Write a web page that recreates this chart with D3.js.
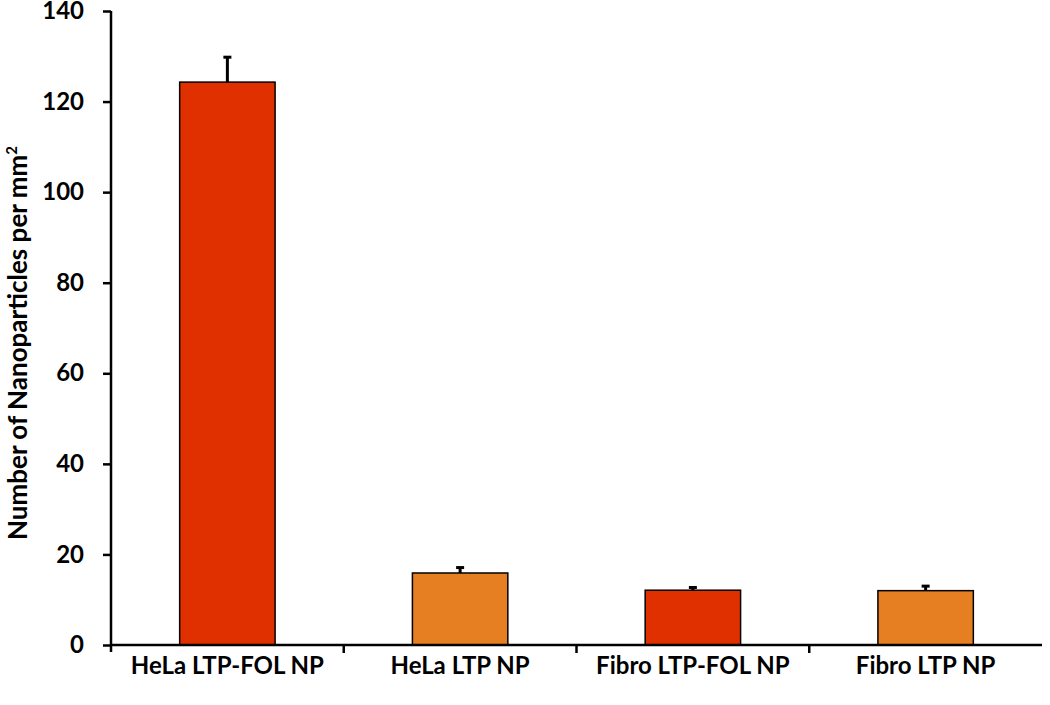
<!DOCTYPE html>
<html>
<head>
<meta charset="utf-8">
<script src="https://cdn.jsdelivr.net/npm/d3@7"></script>
<style>
  body { margin: 0; background: #fff; }
  text { font-family: Lato, "Open Sans", sans-serif; font-weight: bold; fill: #000; }
</style>
</head>
<body>
<svg id="chart"></svg>
<script>
const width = 1050;
const height = 705;

// data
const categories = ["HeLa LTP-FOL NP", "HeLa LTP NP", "Fibro LTP-FOL NP", "Fibro LTP NP"];
const values = [124.3, 15.9, 12.1, 12.0];
const errors = [5.5, 1.2, 0.6, 1.0];
const barColors = ["#E03000", "#E67E22", "#E03000", "#E67E22"];
const yTicks = [0, 20, 40, 60, 80, 100, 120, 140];

const margin = { top: 11, right: 8, bottom: 60, left: 111 };

const svg = d3.select("#chart").attr("width", width).attr("height", height);

const x = d3.scaleBand().domain(categories).range([margin.left, 1042]).paddingInner(0.59).paddingOuter(0.295);
const y = d3.scaleLinear().domain([0, 140]).range([645, margin.top]);

// bars
svg.append("g")
  .selectAll("rect")
  .data(categories)
  .enter()
  .append("rect")
  .attr("x", (d) => x(d))
  .attr("y", (d, i) => y(values[i]))
  .attr("width", x.bandwidth())
  .attr("height", (d, i) => y(0) - y(values[i]))
  .attr("fill", (d, i) => barColors[i])
  .attr("stroke", "#000")
  .attr("stroke-width", 1.5);

// error bars (upper only)
const eb = svg.append("g").attr("stroke", "#000").attr("stroke-width", 3);
categories.forEach((c, i) => {
  const cx = x(c) + x.bandwidth() / 2;
  eb.append("line").attr("x1", cx).attr("x2", cx).attr("y1", y(values[i])).attr("y2", y(values[i] + errors[i]));
  eb.append("line").attr("x1", cx - 4).attr("x2", cx + 4).attr("y1", y(values[i] + errors[i])).attr("y2", y(values[i] + errors[i]));
});

// y axis
const yAxis = svg.append("g")
  .attr("transform", `translate(${margin.left},0)`)
  .call(d3.axisLeft(y).tickValues(yTicks).tickSize(8).tickPadding(19));
yAxis.select(".domain").attr("stroke-width", 2.5).attr("d", `M0,${margin.top}V652`);
yAxis.selectAll(".tick line").attr("stroke-width", 2.5);
yAxis.selectAll(".tick text").style("font-size", "24px");

// x axis with ticks between the categories
const step = x.step();
const xAxis = svg.append("g").attr("transform", `translate(0,${y(0)})`);
xAxis.append("line").attr("x1", margin.left).attr("x2", 1042).attr("stroke", "#000").attr("stroke-width", 2.5);
xAxis.selectAll(".sep")
  .data(categories.slice(1))
  .enter()
  .append("line")
  .attr("x1", (d) => x(d) - step * x.paddingInner() / 2)
  .attr("x2", (d) => x(d) - step * x.paddingInner() / 2)
  .attr("y1", 0)
  .attr("y2", 8)
  .attr("stroke", "#000")
  .attr("stroke-width", 2.5);
xAxis.selectAll(".lab")
  .data(categories)
  .enter()
  .append("text")
  .attr("x", (d) => x(d) + x.bandwidth() / 2)
  .attr("y", 29)
  .attr("text-anchor", "middle")
  .style("font-size", "24px")
  .text((d) => d);

// y title
const title = svg.append("text")
  .attr("transform", `translate(27,${(y(0) + y(140)) / 2 + 15}) rotate(-90)`)
  .attr("text-anchor", "middle")
  .style("font-size", "26px");
title.append("tspan").text("Number of Nanoparticles per mm");
title.append("tspan").attr("dy", -10).style("font-size", "15px").text("2");
</script>
</body>
</html>
